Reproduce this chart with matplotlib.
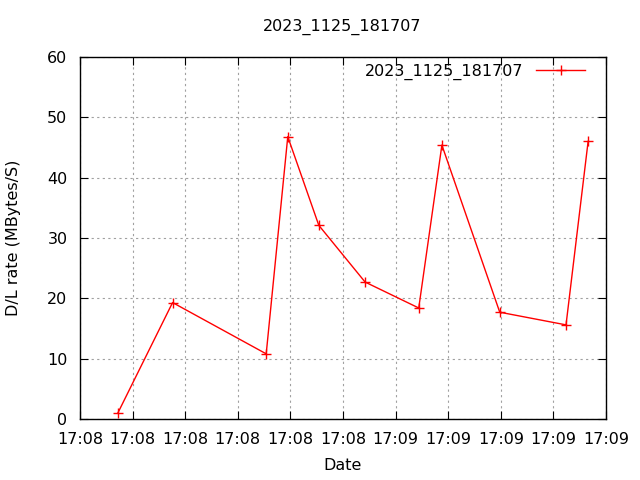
import matplotlib
matplotlib.use("Agg")
import matplotlib.pyplot as plt
import matplotlib.dates as mdates
from datetime import datetime, timedelta

times = ["17:08:07.2", "17:08:17.6", "17:08:35.4", "17:08:39.5", "17:08:45.4",
         "17:08:54.2", "17:09:04.4", "17:09:08.8", "17:09:19.8", "17:09:32.4", "17:09:36.6"]
rates = [1.0, 19.3, 10.8, 46.8, 32.1, 22.7, 18.4, 45.4, 17.7, 15.6, 46.0]
title = "2023_1125_181707"

base = datetime(2023, 11, 25)
def parse(t):
    h, m, s = t.split(":")
    return base + timedelta(hours=int(h), minutes=int(m), seconds=float(s))
xs = [parse(t) for t in times]

plt.rcParams['font.family'] = ['DejaVu Sans']
fs = 11.5
fig = plt.figure(figsize=(6.4, 4.8), dpi=100)
ax = fig.add_axes([80/640, 61/480, 526/640, 362/480])
ax.plot(xs, rates, color='red', lw=1, marker='+', markersize=6.5, mew=1, label=title)

ax.set_ylim(0, 60)
ax.set_yticks(range(0, 61, 10))
x0 = base + timedelta(hours=17, minutes=8)
ax.set_xlim(x0, x0 + timedelta(seconds=100))
ax.set_xticks([x0 + timedelta(seconds=10 * i) for i in range(11)])
ax.xaxis.set_major_formatter(mdates.DateFormatter("%H:%M"))

ax.grid(True, color='#a0a0a0', linestyle=(0, (2, 3)), lw=0.8)
ax.tick_params(direction='in', top=True, right=True, length=6, labelsize=fs)
ax.tick_params(axis='x', pad=9)
ax.tick_params(axis='y', pad=9)
for s in ax.spines.values():
    s.set_linewidth(1)

ax.set_xlabel("Date", fontsize=fs, labelpad=8)
ax.set_ylabel("D/L rate (MBytes/S)", fontsize=fs)
ax.yaxis.set_label_coords(-0.112, 0.5)
fig.text(0.535, 1 - 27/480, title, ha='center', va='center', fontsize=fs)

leg = ax.legend(loc='upper right', frameon=False, markerfirst=False, fontsize=fs,
                handlelength=3.06, bbox_to_anchor=((589 - 80) / 526, 1 - 3/362), borderaxespad=0.0,
                borderpad=0.25, handletextpad=0.8)

fig.savefig("out.png", dpi=100)
